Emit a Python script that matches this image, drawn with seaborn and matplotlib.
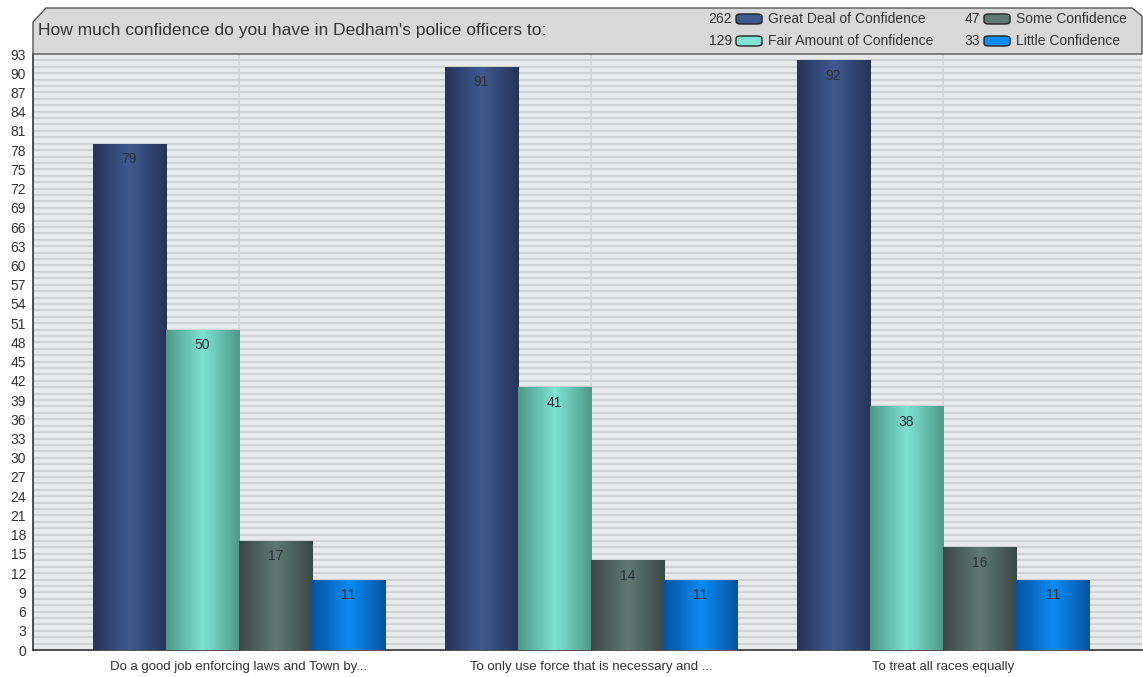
import numpy as np
import pandas as pd
import matplotlib
matplotlib.use("Agg")
import matplotlib.pyplot as plt
import seaborn as sns
from matplotlib.patches import Polygon, FancyBboxPatch
from matplotlib.colors import LinearSegmentedColormap

# data
questions = ["Do a good job enforcing laws and Town by...",
             "To only use force that is necessary and ...",
             "To treat all races equally"]
series = ["Great Deal of Confidence", "Fair Amount of Confidence",
          "Some Confidence", "Little Confidence"]
totals = [262, 129, 47, 33]
great_deal = [79, 91, 92]
fair_amount = [50, 41, 38]
some = [17, 14, 16]
little = [11, 11, 11]

# (edge, centre) colours for the cylinder gradient
shades = [("#26345a", "#40598f"),
          ("#4f9a8a", "#7fe2d2"),
          ("#3a4845", "#5f7a72"),
          ("#0553a0", "#0a8cf5")]

W, H = 1143, 677


def fx(px):
    return px / W


def fy(py):
    return 1 - py / H


rows = []
for name, vals in zip(series, [great_deal, fair_amount, some, little]):
    for q, v in zip(questions, vals):
        rows.append({"question": q, "series": name, "value": v})
df = pd.DataFrame(rows)

sns.set_style("white")
plt.rcParams["font.family"] = ["Liberation Sans", "DejaVu Sans"]

fig = plt.figure(figsize=(W / 100, H / 100), dpi=100)
ax = fig.add_axes([fx(33), fy(650), fx(1142) - fx(33), fy(54) - fy(650)])
ax.set_facecolor("#e9eaec")

sns.barplot(data=df, x="question", y="value", hue="series",
            palette=[c[1] for c in shades], width=0.83, gap=0,
            legend=False, ax=ax, zorder=3)

ax.set_xlim(-0.585, 2.565)
ax.set_ylim(0, 93)

# striped background: a line at every unit
for yv in range(1, 93):
    ax.axhline(yv, color="#d0d1d3", lw=1.6, zorder=0)
for xv in range(len(questions)):
    ax.axvline(xv, color="#d4d4d4", lw=1.2, zorder=1)

# gradient fill on each bar, labels inside
for i, name in enumerate(series):
    edge, mid = shades[i]
    cmap = LinearSegmentedColormap.from_list(name, [edge, mid, edge])
    grad = np.linspace(0, 1, 64).reshape(1, -1)
    for j in range(len(questions)):
        p = ax.patches[i * len(questions) + j]
        x0, w, h = p.get_x(), p.get_width(), p.get_height()
        p.set_edgecolor("#2e3b40")
        p.set_linewidth(0.6)
        im = ax.imshow(grad, cmap=cmap, aspect="auto",
                       extent=[x0, x0 + w, 0, h], zorder=4)
        im.set_clip_path(p)
        ax.text(x0 + w / 2, h - 2.4, str(int(h)), ha="center", va="center",
                fontsize=10, color="#2a2f36", zorder=5)

ax.set_yticks(range(0, 94, 3))
ax.tick_params(axis="y", labelsize=10, length=4, width=1, colors="#333333",
               direction="out", pad=1)
ax.tick_params(axis="x", labelsize=9.5, length=4, width=1, colors="#333333",
               direction="out", pad=4)
ax.set_xlabel("")
ax.set_ylabel("")
for s in ["top", "right"]:
    ax.spines[s].set_visible(False)
for s in ["left", "bottom"]:
    ax.spines[s].set_color("#333333")
    ax.spines[s].set_linewidth(1.2)

# title band with chamfered corner
band = Polygon([(fx(33), fy(54)), (fx(33), fy(22)), (fx(46), fy(8)),
                (fx(1132), fy(8)), (fx(1142), fy(16)), (fx(1142), fy(54))],
               closed=True, transform=fig.transFigure, facecolor="#d9d9d9",
               edgecolor="#555555", lw=1.0, zorder=0)
fig.patches.append(band)
fig.text(fx(38), fy(31), "How much confidence do you have in Dedham's police officers to:",
         fontsize=12.5, color="#333333", ha="left", va="center")

# legend in the band
cols = [(732, 736, 768), (980, 984, 1016)]
rows_y = [19, 41]
for k, (name, tot) in enumerate(zip(series, totals)):
    c = cols[0] if k in (0, 1) else cols[1]
    yy = rows_y[k % 2]
    fig.text(fx(c[0]), fy(yy), str(tot), fontsize=10, color="#333333",
             ha="right", va="center")
    edge, mid = shades[k]
    fig.patches.append(FancyBboxPatch((fx(c[1]), fy(yy + 5)),
                                      fx(26), fy(0) - fy(10),
                                      boxstyle="round,pad=0,rounding_size=0.004",
                                      transform=fig.transFigure,
                                      facecolor=mid, edgecolor="#222222", lw=1.0))
    fig.text(fx(c[2]), fy(yy), name, fontsize=10, color="#333333",
             ha="left", va="center")

fig.savefig("out.png", dpi=100)
